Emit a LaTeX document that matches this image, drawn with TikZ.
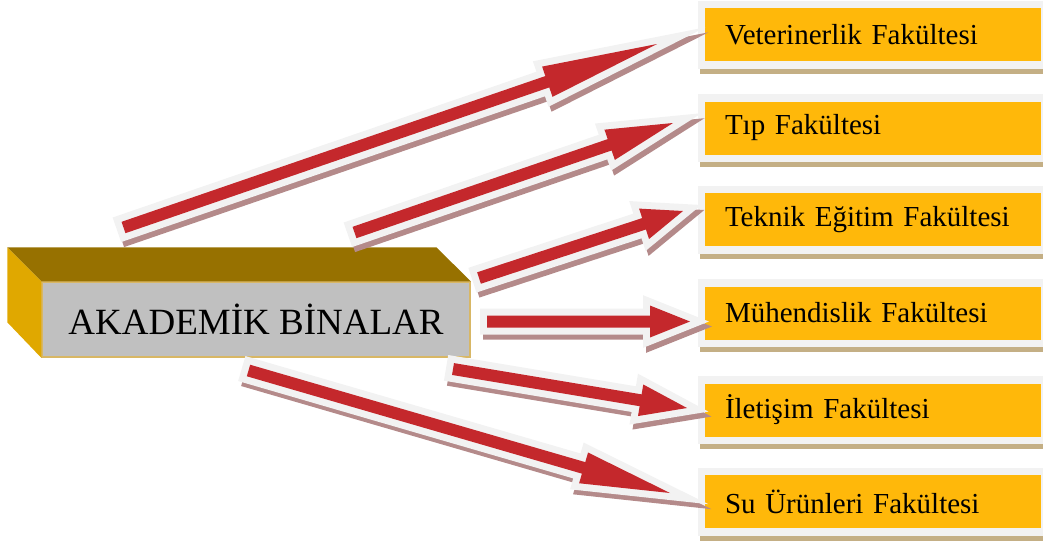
\documentclass[tikz,border=0pt]{standalone}
\usepackage{fontspec}
\setmainfont{Liberation Serif}
\usetikzlibrary{calc}

\definecolor{facorange}{HTML}{FFB80A}
\definecolor{facframe}{HTML}{F2F2F2}
\definecolor{facshade}{HTML}{C4AF85}
\definecolor{hubfront}{HTML}{C0C0C0}
\definecolor{hubtop}{HTML}{977100}
\definecolor{hubside}{HTML}{E0A800}
\definecolor{hubline}{HTML}{D8B765}
\definecolor{arrowred}{HTML}{C4282C}
\definecolor{arrowframe}{HTML}{F2F2F2}
\definecolor{arrowshade}{HTML}{B48A8A}

% outline of one block arrow from tail #1 to tip #2
\newcommand{\arrowshape}[2]{($(#1)!6pt!90:(#2)$) -- ($(#2-base)!6pt!90:(#2)$) -- ($(#2-base)!16pt!90:(#2)$) -- (#2) -- ($(#2-base)!16pt!-90:(#2)$) -- ($(#2-base)!6pt!-90:(#2)$) -- ($(#1)!6pt!-90:(#2)$) -- cycle}
\newcommand{\blockarrow}[3]{%
  \coordinate (#2-base) at ($(#2)!#3!(#1)$);
  \filldraw[arrowshade, line width=14pt, transform canvas={shift={(3pt,-5pt)}}] \arrowshape{#1}{#2};
  \draw[arrowframe, line width=14pt] \arrowshape{#1}{#2};
  \fill[arrowred] \arrowshape{#1}{#2};
}

\tikzset{
  fac/.style={rectangle, fill=facorange, text width=296pt, inner xsep=20pt,
    minimum height=53pt, align=left, font=\fontsize{29}{34}\selectfont,
    preaction={draw=facshade, line width=15pt, transform canvas={shift={(2pt,-5pt)}}},
    preaction={draw=facframe, line width=15pt}},
  hub/.style={rectangle, fill=hubfront, draw=hubline, line width=1.5pt,
    minimum width=428pt, minimum height=75pt, font=\fontsize{37}{42}\selectfont}
}

\begin{document}
\begin{tikzpicture}[x=1pt,y=1pt]
            \useasboundingbox (0,0) rectangle (1043,-544);
            % faculties
            \node[fac] at (873,-34.5) (vet) {Veterinerlik Fakültesi};
            \node[fac] at (873,-128) (tip) {Tıp Fakültesi};
            \node[fac] at (873,-219.5) (tek) {Teknik Eğitim Fakültesi};
            \node[fac] at (873,-313) (muh) {Mühendislik Fakültesi};
            \node[fac] at (873,-410) (ile) {İletişim Fakültesi};
            \node[fac] at (873,-501.5) (su) {Su Ürünleri Fakültesi};
            % the box
            \node[hub] at (256,-319.5) (hub) {AKADEMİK BİNALAR};
            \fill[hubtop] (hub.north west) -- ++(-34,34) -- ++(429,0) -- (hub.north east) -- cycle;
            \fill[hubside] (hub.north west) -- ++(-34,34) -- ++(0,-75) -- (hub.south west) -- cycle;
            % arrows
            \coordinate (vet-tail) at (123.5,-227.5);
            \coordinate (vet-tip) at (657,-44);
            \coordinate (tip-tail) at (354.5,-232.5);
            \coordinate (tip-tip) at (673,-123);
            \coordinate (tek-tail) at (479,-278);
            \coordinate (tek-tip) at (683,-211);
            \coordinate (muh-tail) at (487,-321.5);
            \coordinate (muh-tip) at (690,-321.5);
            \coordinate (ile-tail) at (453,-369);
            \coordinate (ile-tip) at (687,-408);
            \coordinate (su-tail) at (248.5,-370.5);
            \coordinate (su-tip) at (670,-493);
            \blockarrow{vet-tail}{vet-tip}{116pt}
            \blockarrow{tip-tail}{tip-tip}{67pt}
            \blockarrow{tek-tail}{tek-tip}{41pt}
            \blockarrow{muh-tail}{muh-tip}{40pt}
            \blockarrow{ile-tail}{ile-tip}{47pt}
            \blockarrow{su-tail}{su-tip}{90pt}
        \end{tikzpicture}
\end{document}
